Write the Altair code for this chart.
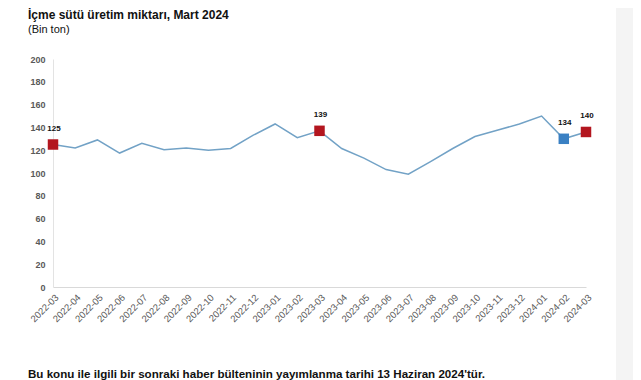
import altair as alt
import pandas as pd

months = ["2022-03", "2022-04", "2022-05", "2022-06", "2022-07", "2022-08", "2022-09",
          "2022-10", "2022-11", "2022-12", "2023-01", "2023-02", "2023-03", "2023-04",
          "2023-05", "2023-06", "2023-07", "2023-08", "2023-09", "2023-10", "2023-11",
          "2023-12", "2024-01", "2024-02", "2024-03"]
values = [125, 122, 129, 117.5, 126, 120.5, 122, 120, 121.5, 133, 143, 131, 137, 121.5,
          113, 103, 99, 110, 121.5, 132, 137.5, 143, 150, 130, 136]
y_ticks = [0, 20, 40, 60, 80, 100, 120, 140, 160, 180, 200]

marked_months = ["2022-03", "2023-03", "2024-02", "2024-03"]
marked_labels = ["125", "139", "134", "140"]
marked_kind = ["Mart", "Mart", "Önceki ay", "Mart"]

title_text = "İçme sütü üretim miktarı, Mart 2024"
subtitle_text = "(Bin ton)"
footer_text = "Bu konu ile ilgili bir sonraki haber bülteninin yayımlanma tarihi 13 Haziran 2024'tür."

df = pd.DataFrame({"month": months, "value": values})
mk = pd.DataFrame({
    "month": marked_months,
    "value": [values[months.index(m)] for m in marked_months],
    "label": marked_labels,
    "kind": marked_kind,
})

x_enc = alt.X("month:O", sort=months,
              scale=alt.Scale(type="point", padding=0),
              axis=alt.Axis(title=None, labelAngle=-45, ticks=False, tickSize=0,
                            labelFontSize=9.5, labelColor="#595959", labelFont="Liberation Sans",
                            labelOverlap=False, domainColor="#d9d9d9", labelPadding=5))
y_enc = alt.Y("value:Q", scale=alt.Scale(domain=[0, 200], nice=False),
              axis=alt.Axis(title=None, values=y_ticks, grid=False,
                            ticks=False, tickSize=0, labelFontSize=9, labelFontWeight="bold",
                            labelColor="#595959", labelFont="Liberation Sans",
                            labelOverlap=False, labelBound=False, labelFlush=False,
                            domainColor="#e3e3e3", labelPadding=8))

strip = alt.Chart(pd.DataFrame({"a": [0]})).mark_rect(color="#f4f4f4", clip=False).encode(
    x=alt.value(563), x2=alt.value(585), y=alt.value(-60), y2=alt.value(330))

line = alt.Chart(df).mark_line(color="#72a2c6", strokeWidth=1.5).encode(x=x_enc, y=y_enc)

squares = alt.Chart(mk).mark_point(shape="square", size=110, filled=True, opacity=1).encode(
    x=x_enc,
    y=y_enc,
    color=alt.Color("kind:N", scale=alt.Scale(domain=["Mart", "Önceki ay"],
                                              range=["#b3161f", "#3a80c3"]), legend=None))

labels = alt.Chart(mk).mark_text(dy=-16, dx=1, fontSize=8, fontWeight="bold", color="#111111",
                                 font="Liberation Sans").encode(
    x=x_enc, y=y_enc, text="label:N")

def note(text, y, size, weight):
    return alt.Chart(pd.DataFrame({"t": [text]})).mark_text(
        align="left", baseline="alphabetic", fontSize=size, fontWeight=weight,
        color="#111111", font="Liberation Sans", clip=False).encode(
        x=alt.value(-25), y=alt.value(y), text="t:N")

chart = alt.layer(
    strip, line, squares, labels,
    note(title_text, -40, 12, "bold"),
    note(subtitle_text, -26, 11, "normal"),
    note(footer_text, 319, 11.6, "bold"),
).properties(
    width=533, height=228,
    autosize=alt.AutoSizeParams(type="none"),
    padding={"left": 45, "top": 51, "right": 47, "bottom": 93},
).configure_view(stroke=None).configure_axisY(labelOverlap=False)

chart.save("out.html", embed_options={"renderer": "svg", "actions": False})
